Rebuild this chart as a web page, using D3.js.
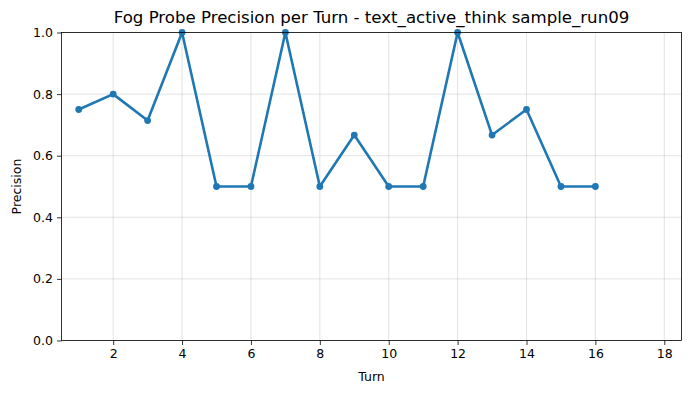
<!DOCTYPE html>
<html>
<head>
<meta charset="utf-8" />
<title>Fog Probe Precision per Turn</title>
<style>
  body { margin: 0; background: white; }
  text { font-family: "DejaVu Sans", sans-serif; }
</style>
<script src="https://cdnjs.cloudflare.com/ajax/libs/d3/7.8.5/d3.min.js"></script>
</head>
<body>
<script>
var turns = [1, 2, 3, 4, 5, 6, 7, 8, 9, 10, 11, 12, 13, 14, 15, 16];
var precision = [0.75, 0.8, 0.714, 1.0, 0.5, 0.5, 1.0, 0.5, 0.667, 0.5, 0.5, 1.0, 0.667, 0.75, 0.5, 0.5];
var xTicks = [2, 4, 6, 8, 10, 12, 14, 16, 18];
var yTicks = [0, 0.2, 0.4, 0.6, 0.8, 1.0];

var width = 691, height = 393;
var margin = {top: 32.5, right: 9.5, bottom: 52.5, left: 61.5};

var svg = d3.select("body").append("svg")
    .attr("width", width)
    .attr("height", height);

var x = d3.scaleLinear().domain([0.5, 18.5]).range([margin.left, width - margin.right]);
var y = d3.scaleLinear().domain([0, 1]).range([height - margin.bottom, margin.top]);

// grid
svg.append("g").selectAll("line").data(xTicks).enter().append("line")
    .attr("x1", d => x(d)).attr("x2", d => x(d))
    .attr("y1", y(0)).attr("y2", y(1))
    .attr("stroke", "#b0b0b0").attr("stroke-opacity", 0.45).attr("stroke-width", 0.8);
svg.append("g").selectAll("line").data(yTicks).enter().append("line")
    .attr("x1", x(0.5)).attr("x2", x(18.5))
    .attr("y1", d => y(d)).attr("y2", d => y(d))
    .attr("stroke", "#b0b0b0").attr("stroke-opacity", 0.45).attr("stroke-width", 0.8);

// line + markers
var pts = turns.map((t, i) => [t, precision[i]]);
svg.append("path")
    .datum(pts)
    .attr("fill", "none")
    .attr("stroke", "#1f77b4")
    .attr("stroke-width", 2.6)
    .attr("stroke-linejoin", "round")
    .attr("d", d3.line().x(d => x(d[0])).y(d => y(d[1])));

svg.append("g").selectAll("circle").data(pts).enter().append("circle")
    .attr("cx", d => x(d[0])).attr("cy", d => y(d[1]))
    .attr("r", 3.4)
    .attr("fill", "#1f77b4");

// axes
var xAxis = svg.append("g")
    .attr("transform", "translate(0," + y(0) + ")")
    .call(d3.axisBottom(x).tickValues(xTicks).tickSize(4.5).tickPadding(4).tickSizeOuter(0));
var yAxis = svg.append("g")
    .attr("transform", "translate(" + x(0.5) + ",0)")
    .call(d3.axisLeft(y).tickValues(yTicks).tickFormat(d3.format(".1f")).tickSize(4.5).tickPadding(4).tickSizeOuter(0));
[xAxis, yAxis].forEach(function(a) {
    a.selectAll("text").style("font-size", "12.5px").attr("fill", "#000");
    a.selectAll("line").attr("stroke", "#000").attr("stroke-width", 0.8);
    a.select(".domain").remove();
});

// frame
svg.append("rect")
    .attr("x", x(0.5)).attr("y", y(1))
    .attr("width", x(18.5) - x(0.5)).attr("height", y(0) - y(1))
    .attr("fill", "none").attr("stroke", "#000").attr("stroke-width", 0.8);

// labels
svg.append("text")
    .attr("x", (x(0.5) + x(18.5)) / 2).attr("y", 23)
    .attr("text-anchor", "middle")
    .style("font-size", "16.6px")
    .text("Fog Probe Precision per Turn - text_active_think sample_run09");

svg.append("text")
    .attr("x", (x(0.5) + x(18.5)) / 2).attr("y", 381)
    .attr("text-anchor", "middle")
    .style("font-size", "12.5px")
    .text("Turn");

svg.append("text")
    .attr("transform", "translate(20.5," + ((y(0) + y(1)) / 2) + ") rotate(-90)")
    .attr("text-anchor", "middle")
    .style("font-size", "12.5px")
    .text("Precision");
</script>
</body>
</html>
